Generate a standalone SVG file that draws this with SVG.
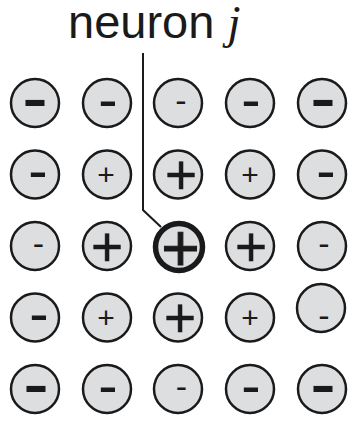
<svg xmlns="http://www.w3.org/2000/svg" width="349" height="422" viewBox="0 0 349 422">
<style>
  .c{fill:#dcdee0;stroke:#1a1a1a;stroke-width:2.5}
  .cj{fill:#dcdee0;stroke:#1a1a1a;stroke-width:5.5}
  .s{font-family:"Liberation Sans",Arial,sans-serif;fill:#1a1a1a;text-anchor:middle}
  .mL{font-size:78px}
  .mM{font-size:58px}
  .mS{font-size:34px}
  .pL{font-size:55px;stroke:#1a1a1a;stroke-width:0.5}
  .pS{font-size:30px}
  .pJ{font-size:66px;stroke:#1a1a1a;stroke-width:1}
  .lbl{font-family:"Liberation Sans",Arial,sans-serif;font-size:47px;fill:#1a1a1a}
  .jv{font-family:"Liberation Serif","Times New Roman",serif;font-style:italic}
  .conn{fill:none;stroke:#1a1a1a;stroke-width:2}
</style>
<rect width="349" height="422" fill="#ffffff"/>
<g id="label">
  <text class="lbl" x="68" y="38">neuron <tspan class="jv">j</tspan></text>
</g>
<g id="connectors">
  <polyline class="conn" points="143,53 143,210 161,227"/>
</g>
<!-- row 1 -->
<g id="n11"><circle class="c" cx="35" cy="103" r="24"/><text class="s mL" x="35" y="124">-</text></g>
<g id="n12"><circle class="c" cx="107" cy="103" r="24"/><text class="s mM" x="108" y="118.7">-</text></g>
<g id="n13"><circle class="c" cx="178" cy="103" r="24"/><text class="s mS" x="181" y="112.2">-</text></g>
<g id="n14"><circle class="c" cx="250" cy="103" r="24"/><text class="s mM" x="251" y="118.7">-</text></g>
<g id="n15"><circle class="c" cx="322" cy="103" r="24"/><text class="s mL" x="323" y="124">-</text></g>
<!-- row 2 -->
<g id="n21"><circle class="c" cx="35" cy="174.5" r="24"/><text class="s mM" x="38" y="190.2">-</text></g>
<g id="n22"><circle class="c" cx="107" cy="174.5" r="24"/><text class="s pS" x="106" y="185">+</text></g>
<g id="n23"><circle class="c" cx="178" cy="174.5" r="24"/><text class="s pL" x="181" y="194">+</text></g>
<g id="n24"><circle class="c" cx="250" cy="174.5" r="24"/><text class="s pS" x="250" y="185">+</text></g>
<g id="n25"><circle class="c" cx="322" cy="174.5" r="24"/><text class="s mM" x="326" y="190.2">-</text></g>
<!-- row 3 -->
<g id="n31"><circle class="c" cx="35" cy="246" r="24"/><text class="s mS" x="38.5" y="255.2">-</text></g>
<g id="n32"><circle class="c" cx="107" cy="246" r="24"/><text class="s pL" x="107" y="265.5">+</text></g>
<g id="n33"><circle class="cj" cx="179" cy="247" r="23.5"/><text class="s pJ" x="180.5" y="271">+</text></g>
<g id="n34"><circle class="c" cx="250" cy="246" r="24"/><text class="s pL" x="251" y="265.5">+</text></g>
<g id="n35"><circle class="c" cx="322" cy="246" r="24"/><text class="s mS" x="324" y="255.2">-</text></g>
<!-- row 4 -->
<g id="n41"><circle class="c" cx="35" cy="317.5" r="24"/><text class="s mM" x="39" y="333.2">-</text></g>
<g id="n42"><circle class="c" cx="107" cy="317.5" r="24"/><text class="s pS" x="106" y="328">+</text></g>
<g id="n43"><circle class="c" cx="178" cy="317.5" r="24"/><text class="s pL" x="180" y="337">+</text></g>
<g id="n44"><circle class="c" cx="250" cy="317.5" r="24"/><text class="s pS" x="250" y="328">+</text></g>
<g id="n45"><circle class="c" cx="321" cy="308" r="24"/><text class="s mS" x="324" y="327.2">-</text></g>
<!-- row 5 -->
<g id="n51"><circle class="c" cx="35" cy="389" r="24"/><text class="s mL" x="36" y="410">-</text></g>
<g id="n52"><circle class="c" cx="107" cy="389" r="24"/><text class="s mM" x="108" y="404.7">-</text></g>
<g id="n53"><circle class="c" cx="178" cy="389" r="24"/><text class="s mS" x="181.5" y="398.2">-</text></g>
<g id="n54"><circle class="c" cx="250" cy="389" r="24"/><text class="s mM" x="251" y="404.7">-</text></g>
<g id="n55"><circle class="c" cx="322" cy="389" r="24"/><text class="s mL" x="323" y="410">-</text></g>
</svg>
